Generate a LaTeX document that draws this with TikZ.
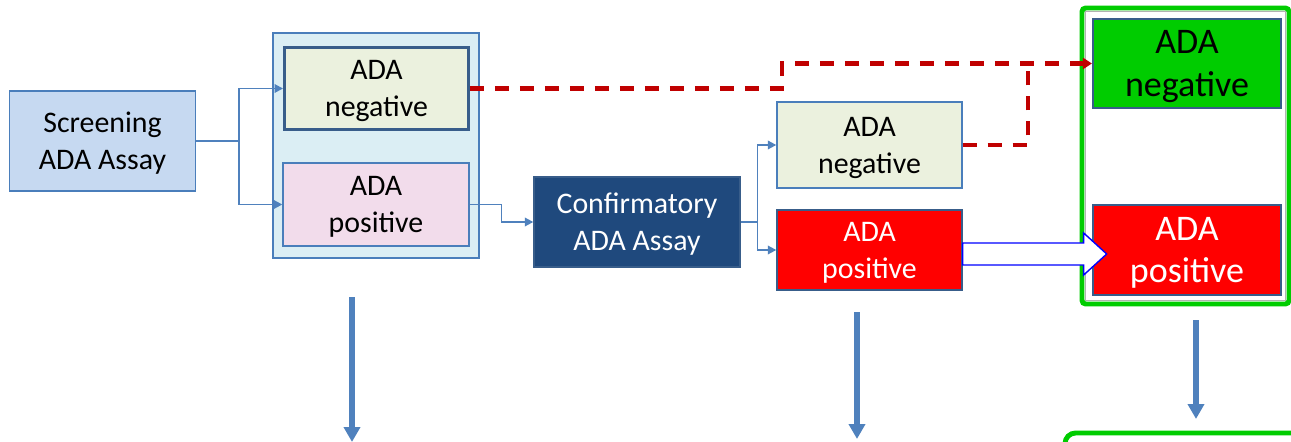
\documentclass[tikz,border=0pt]{standalone}
\usepackage{fontspec}
\setmainfont{Carlito}
\usetikzlibrary{positioning,arrows.meta,calc}

\definecolor{linkblue}{HTML}{4F81BD}
\definecolor{boxline}{HTML}{4A7EBB}
\definecolor{darkline}{HTML}{385D8A}
\definecolor{screenfill}{HTML}{C6D9F1}
\definecolor{groupfill}{HTML}{DBEEF4}
\definecolor{negfill}{HTML}{EBF1DE}
\definecolor{posfill}{HTML}{F2DCEB}
\definecolor{navyfill}{HTML}{1F497D}
\definecolor{darkred}{HTML}{C00000}
\definecolor{okgreen}{HTML}{00CC00}
\definecolor{hollowblue}{HTML}{0000FF}

\begin{document}
\begin{tikzpicture}[x=0.02cm, y=-0.02cm,
  box/.style={rectangle, draw=boxline, line width=0.8pt, align=center, inner sep=0pt,
    text depth=0pt, font=\fontsize{17}{21}\selectfont},
  bigbox/.style={box, draw=darkline, line width=1.2pt, minimum width=3.76cm,
    font=\fontsize{20.5}{24}\selectfont},
  link/.style={draw=linkblue, line width=1.1pt, -{Triangle[length=0.17cm,width=0.17cm]}},
  dashlink/.style={draw=darkred, line width=2.3pt, dash pattern=on 0.29cm off 0.21cm},
  down/.style={draw=linkblue, line width=3pt, -{Triangle[length=0.3cm,width=0.32cm]}}
]
\useasboundingbox (0,0) rectangle (1291,442);
\clip (0,0) rectangle (1291,442);

% Screening stage
\node[box, fill=groupfill, minimum width=4.12cm, minimum height=4.5cm] (group) at (376,145.5) {};
\node[box, fill=screenfill, minimum width=3.72cm, minimum height=2cm] (screen) at (102.5,141) {Screening\\ADA Assay};
\node[box, fill=negfill, draw=darkline, line width=1.7pt, minimum width=3.68cm, minimum height=1.64cm] (neg1) at (376.5,88.5) {ADA\\negative};
\node[box, fill=posfill, minimum width=3.72cm, minimum height=1.66cm] (pos1) at (376,204.5) {ADA\\positive};

% Confirmatory stage
\node[box, fill=navyfill, draw=darkline, text=white, minimum width=4.12cm, minimum height=1.8cm] (conf) at (637,222) {Confirmatory\\ADA Assay};
\node[box, fill=negfill, minimum width=3.7cm, minimum height=1.72cm] (neg2) at (869.5,145) {ADA\\negative};
\node[box, fill=red, draw=darkline, text=white, minimum width=3.7cm, minimum height=1.6cm] (pos2) at (869.5,250) {ADA\\positive};

% Result
\node[rectangle, draw=okgreen, fill=white, line width=2.8pt, rounded corners=2pt, minimum width=4.14cm, minimum height=5.92cm] (frame) at (1185.5,156) {};
\draw[gray!60, line width=0.6pt] ($(frame.south west)+(6,-6)$) rectangle ($(frame.north east)+(-6,6)$);
\node[bigbox, fill=okgreen, minimum height=1.78cm] (neg3) at (1187,63.5) {ADA\\negative};
\node[bigbox, fill=red, text=white, minimum height=1.8cm] (pos3) at (1187,250) {ADA\\positive};
\node[rectangle, draw=okgreen, line width=2.8pt, rounded corners=6pt, minimum width=5cm, minimum height=1.88cm] (outcome) at (1190,480) {};

% Edges
\coordinate (fork1) at (239,141);
\coordinate (bend1) at (501.5,204.5);
\coordinate (fork2) at (757.5,222);
\draw[link] (screen.east) -- (fork1) |- (neg1.west);
\draw[link] (fork1) |- (pos1.west);
\draw[link] (pos1.east) -- (bend1) |- (conf.west);
\draw[link] (conf.east) -- (fork2) |- (neg2.west);
\draw[link] (fork2) |- (pos2.west);

\coordinate (jog1) at (782,88.5);
\coordinate (jog2) at (1028,63.5);
\draw[dashlink, -{Triangle[length=0.18cm,width=0.22cm]}] (neg1.east) -- (jog1) |- (neg3.west);
\draw[dashlink] (neg2.east) -| (jog2);

\draw[hollowblue, fill=white, line width=0.8pt] ($(pos2.east)+(0,-7)$) -- ++(121,0) -- ++(0,-10) -- ++(23,21)
  -- ++(-23,21) -- ++(0,-10) -- ++(-121,0) -- cycle;

\coordinate (d1a) at (352,297);
\coordinate (d1b) at (352,442);
\coordinate (d2a) at (857,312);
\coordinate (d2b) at (857,439);
\coordinate (d3a) at (1196,320);
\coordinate (d3b) at (1196,419);
\draw[down] (d1a) -- (d1b);
\draw[down] (d2a) -- (d2b);
\draw[down] (d3a) -- (d3b);
\end{tikzpicture}
\end{document}
